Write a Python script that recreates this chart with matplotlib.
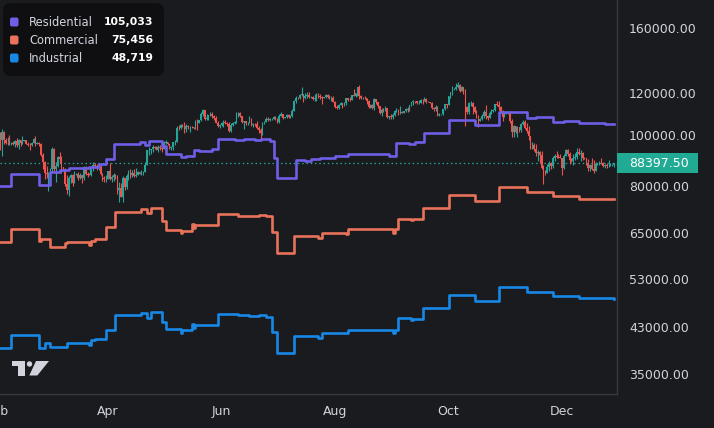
import matplotlib
matplotlib.use("Agg")
import matplotlib.pyplot as plt
import matplotlib.dates as mdates
from matplotlib.patches import FancyBboxPatch, Polygon, Circle, Rectangle
from matplotlib.transforms import IdentityTransform, ScaledTranslation
from matplotlib.ticker import FixedLocator, FuncFormatter, NullLocator
import numpy as np
import pandas as pd

W, H = 714, 428
BG = "#1a1b1f"
TXT = "#d1d4dc"
UP, DOWN = "#26a69a", "#ef5350"

# daily candles, values in thousands (Jan 30 .. Dec 29)
first_open = 103.7
closes = [
    104.7, 102.4,
    100.6, 97.7, 101.4, 97.8, 96.6, 96.6, 96.5, 96.5, 96.1, 97.4, 95.7, 97.9, 96.6, 97.5, 97.6, 96.1, 95.8, 95.5, 96.6, 98.3, 96.1, 96.6, 96.3, 91.5, 88.7, 84.7, 84.4, 84.4,
    86.0, 94.2, 86.1, 87.2, 90.6, 89.9, 86.7, 86.1, 80.7, 78.5, 82.9, 83.7, 81.0, 83.9, 84.3, 82.6, 84.0, 82.7, 86.8, 84.2, 84.0, 83.8, 86.0, 87.5, 87.4, 86.9, 87.2, 84.4, 82.6, 82.3, 82.5,
    85.2, 82.5, 83.1, 83.8, 83.5, 78.4, 79.1, 76.3, 82.6, 79.6, 83.4, 85.3, 83.7, 84.5, 83.6, 84.0, 84.9, 84.4, 85.0, 85.1, 87.5, 93.4, 93.7, 93.9, 94.7, 94.6, 93.8, 95.0, 94.3, 94.2,
    96.5, 96.9, 95.9, 94.3, 94.7, 96.8, 97.0, 103.2, 103.0, 104.6, 104.1, 102.8, 104.2, 103.5, 103.7, 103.5, 103.2, 106.4, 105.6, 106.8, 109.7, 111.7, 107.3, 107.8, 109.0, 109.4, 108.9, 107.8, 105.6, 103.9, 104.6,
    105.6, 105.8, 105.4, 104.7, 101.6, 104.4, 105.6, 105.7, 110.3, 110.3, 108.7, 105.9, 106.1, 105.4, 105.6, 106.8, 104.6, 104.9, 104.7, 103.3, 102.1, 100.9, 105.6, 106.0, 107.3, 106.9, 107.1, 107.3, 108.4, 107.1,
    105.7, 108.8, 109.6, 107.9, 108.2, 109.2, 108.2, 108.9, 111.3, 115.9, 117.5, 117.4, 119.1, 119.8, 117.7, 118.7, 119.4, 117.9, 117.9, 117.3, 117.4, 119.9, 118.7, 118.3, 117.6, 117.9, 119.4, 118.0, 117.8, 117.8, 115.8,
    113.3, 112.5, 114.2, 115.0, 114.1, 115.0, 117.5, 116.6, 116.5, 119.3, 118.7, 120.2, 123.3, 118.4, 117.4, 117.5, 117.4, 116.2, 112.9, 114.3, 112.4, 116.9, 115.4, 113.5, 110.1, 111.8, 111.3, 112.6, 108.4, 108.8, 108.2,
    109.2, 111.2, 111.7, 110.7, 110.7, 110.2, 111.1, 112.0, 111.5, 113.9, 115.5, 116.1, 115.9, 115.3, 115.3, 116.8, 116.5, 117.1, 115.7, 115.7, 115.3, 112.7, 112.0, 113.3, 109.0, 109.6, 109.7, 112.1, 114.4, 114.0,
    118.6, 120.6, 122.3, 122.4, 123.5, 124.7, 121.4, 123.3, 121.7, 113.2, 110.7, 115.2, 115.3, 113.0, 110.8, 108.2, 106.5, 107.2, 108.7, 110.6, 108.5, 107.6, 110.1, 111.0, 111.6, 114.5, 114.1, 112.9, 110.0, 108.3, 109.6,
    110.1, 110.6, 106.5, 101.5, 103.9, 101.3, 103.4, 102.3, 104.7, 106.0, 103.0, 101.6, 99.7, 94.4, 95.5, 94.2, 92.2, 92.9, 91.5, 86.6, 85.1, 84.7, 86.8, 88.3, 87.3, 90.5, 91.3, 90.9, 90.8, 90.4,
    86.3, 91.3, 93.5, 92.1, 89.4, 89.3, 90.4, 90.6, 92.7, 92.0, 92.5, 90.3, 90.2, 88.2, 86.4, 87.8, 86.1, 85.5, 88.1, 88.3, 88.6, 88.5, 87.4, 87.6, 87.2, 87.3, 87.8, 87.8, 88.3975,
]
highs = [
    106.4, 106.0,
    102.8, 101.4, 102.5, 101.7, 98.8, 99.0, 100.1, 96.9, 97.3, 98.0, 98.5, 98.1, 97.2, 99.4, 97.9, 97.7, 97.0, 96.7, 96.9, 98.7, 99.5, 96.9, 96.9, 96.5, 92.5, 89.3, 87.1, 85.0,
    86.5, 95.0, 94.4, 88.9, 91.0, 92.8, 91.2, 86.9, 86.4, 84.0, 83.6, 84.3, 84.3, 85.2, 84.6, 85.0, 84.7, 84.0, 87.4, 87.4, 84.8, 84.5, 86.1, 88.7, 88.5, 88.2, 87.7, 87.5, 84.6, 83.5, 83.9,
    85.5, 88.5, 83.9, 84.7, 84.2, 83.7, 81.2, 80.8, 83.5, 82.7, 84.3, 85.8, 86.0, 85.8, 86.0, 86.4, 85.4, 85.1, 85.6, 85.3, 88.8, 93.8, 94.7, 94.0, 95.8, 95.3, 95.2, 95.6, 95.5, 95.2,
    97.4, 97.9, 96.9, 96.0, 95.2, 96.9, 97.7, 104.0, 104.3, 104.9, 105.0, 105.7, 104.9, 104.6, 104.1, 104.0, 103.7, 107.0, 107.1, 107.0, 110.8, 111.9, 111.8, 109.6, 109.3, 110.4, 110.7, 109.3, 108.9, 106.3, 105.0,
    105.9, 106.6, 106.8, 106.0, 105.9, 105.2, 105.9, 106.4, 110.6, 110.4, 110.4, 108.9, 106.2, 106.2, 106.0, 108.9, 107.7, 105.5, 105.2, 106.5, 104.0, 103.0, 106.0, 106.3, 108.1, 108.0, 107.8, 107.6, 108.5, 108.8,
    107.6, 109.7, 110.6, 109.7, 108.4, 109.7, 109.7, 109.0, 111.9, 116.8, 118.9, 118.2, 119.5, 123.2, 119.9, 120.1, 120.9, 120.8, 118.6, 118.9, 119.7, 120.2, 120.1, 119.5, 118.5, 118.3, 119.8, 119.8, 119.3, 118.8, 118.9,
    116.1, 114.0, 114.8, 115.8, 115.1, 115.7, 117.7, 117.6, 117.9, 119.3, 122.3, 120.3, 123.7, 124.4, 119.2, 118.0, 118.6, 117.6, 116.8, 114.6, 114.8, 117.4, 117.0, 115.8, 113.6, 112.4, 112.6, 113.4, 112.6, 108.9, 109.4,
    109.9, 111.7, 112.6, 112.2, 113.4, 111.0, 111.2, 112.8, 113.2, 114.3, 115.6, 116.8, 116.3, 116.0, 116.7, 117.0, 117.3, 117.9, 117.5, 116.2, 115.8, 115.4, 113.3, 114.0, 113.4, 110.2, 109.8, 112.3, 114.5, 114.8,
    118.9, 121.0, 123.9, 122.9, 125.7, 126.2, 125.1, 124.2, 123.7, 122.5, 113.4, 115.8, 115.9, 115.5, 113.6, 111.8, 109.0, 107.5, 109.4, 111.7, 114.0, 109.1, 111.2, 112.0, 111.9, 114.8, 116.0, 116.0, 113.7, 111.5, 111.2,
    110.6, 111.2, 110.8, 107.3, 104.5, 104.1, 104.1, 103.4, 105.5, 107.0, 106.6, 105.3, 104.0, 99.7, 96.8, 96.6, 96.0, 93.8, 93.1, 93.1, 87.5, 85.6, 88.0, 89.0, 88.8, 91.0, 91.9, 93.0, 91.8, 91.9,
    90.4, 91.8, 94.1, 94.0, 92.7, 90.3, 91.8, 92.3, 94.6, 94.4, 93.6, 92.8, 90.6, 90.5, 89.9, 88.2, 90.3, 89.4, 88.9, 88.6, 89.1, 90.5, 88.8, 88.0, 88.3, 89.4, 88.4, 88.2, 88.6,
]
lows = [
    103.3, 102.2,
    100.3, 93.4, 91.2, 96.2, 96.2, 95.7, 95.7, 95.7, 95.7, 94.7, 94.9, 94.1, 95.2, 96.1, 97.2, 96.0, 95.3, 93.4, 95.2, 96.4, 95.1, 96.1, 95.2, 91.2, 86.1, 82.3, 82.8, 78.2,
    82.3, 85.0, 85.1, 81.4, 86.8, 88.6, 84.6, 85.3, 80.0, 77.0, 76.6, 80.8, 79.9, 80.8, 83.7, 82.2, 82.5, 81.1, 82.0, 83.7, 83.2, 83.7, 83.6, 85.5, 86.3, 85.9, 85.8, 83.7, 81.7, 81.5, 81.3,
    82.4, 82.2, 81.2, 81.6, 82.3, 77.2, 74.5, 76.2, 74.6, 78.5, 78.9, 82.0, 82.7, 83.2, 83.0, 83.1, 83.9, 84.2, 84.0, 83.9, 84.9, 87.6, 91.7, 91.8, 92.9, 93.9, 93.6, 92.9, 93.8, 92.9,
    94.1, 96.2, 95.7, 93.9, 93.5, 93.4, 95.8, 96.9, 102.3, 102.8, 103.4, 100.8, 101.5, 102.5, 101.5, 103.1, 102.6, 102.6, 102.1, 105.2, 106.1, 108.9, 106.9, 106.8, 106.6, 108.7, 107.5, 106.8, 105.3, 103.6, 103.1,
    103.9, 103.7, 104.9, 104.2, 101.1, 101.3, 104.2, 105.1, 105.3, 108.4, 108.4, 105.6, 102.7, 104.3, 104.6, 105.4, 103.8, 103.4, 103.9, 102.5, 101.0, 98.2, 100.0, 104.8, 105.9, 106.5, 106.2, 106.8, 107.2, 106.7,
    105.3, 105.6, 108.6, 107.3, 107.8, 107.9, 107.5, 107.5, 108.4, 111.0, 115.3, 116.9, 117.2, 118.9, 115.8, 116.9, 117.7, 117.4, 117.4, 116.5, 116.2, 116.2, 117.4, 117.2, 114.7, 117.4, 117.8, 117.6, 116.9, 115.9, 115.5,
    112.7, 112.0, 112.0, 114.0, 112.8, 113.7, 114.3, 115.9, 116.2, 116.5, 118.5, 118.2, 118.9, 117.2, 116.9, 117.2, 117.3, 114.6, 112.7, 112.4, 111.9, 111.7, 114.6, 112.6, 109.5, 108.8, 110.4, 110.9, 107.5, 107.4, 107.4,
    107.3, 108.6, 110.6, 109.3, 109.6, 109.9, 110.0, 110.6, 110.8, 111.0, 113.5, 114.3, 115.3, 114.8, 114.5, 114.9, 114.8, 116.0, 115.0, 115.4, 115.0, 112.0, 111.1, 111.3, 108.6, 108.6, 109.0, 109.3, 111.6, 112.7,
    113.9, 117.8, 119.2, 121.6, 122.0, 123.0, 120.6, 121.1, 119.6, 104.0, 109.7, 109.7, 113.8, 109.7, 110.1, 107.6, 103.5, 106.3, 106.6, 107.5, 107.4, 106.8, 107.5, 109.7, 110.8, 111.2, 113.8, 111.8, 109.9, 106.3, 108.2,
    109.4, 109.6, 105.3, 98.9, 98.9, 100.8, 99.3, 101.5, 101.5, 104.3, 102.7, 100.8, 98.0, 94.0, 94.2, 93.0, 91.2, 89.2, 88.6, 86.1, 80.6, 83.9, 84.7, 85.3, 86.1, 86.3, 89.3, 90.2, 90.2, 90.3,
    83.8, 86.2, 91.0, 91.3, 88.0, 88.9, 87.7, 89.6, 89.9, 91.5, 89.3, 89.5, 89.8, 87.6, 85.2, 85.4, 85.9, 84.5, 85.3, 87.8, 87.6, 87.9, 86.9, 86.5, 86.6, 86.7, 87.3, 87.1, 86.9,
]

# step lines: change dates and levels (thousands)
res_dates = ["2025-01-30", "2025-02-08", "2025-02-23", "2025-03-01", "2025-03-06", "2025-03-11", "2025-03-22",
             "2025-03-27", "2025-03-31", "2025-04-04", "2025-04-18", "2025-04-21", "2025-04-23", "2025-04-30",
             "2025-05-02", "2025-05-10", "2025-05-13", "2025-05-17", "2025-05-20", "2025-05-27", "2025-05-30",
             "2025-06-08", "2025-06-13", "2025-06-19", "2025-06-22", "2025-06-27", "2025-06-29", "2025-07-01",
             "2025-07-11", "2025-07-16", "2025-07-19", "2025-07-24", "2025-08-01", "2025-08-08", "2025-08-30",
             "2025-09-03", "2025-09-10", "2025-09-13", "2025-09-18", "2025-10-01", "2025-10-15", "2025-10-28",
             "2025-11-12", "2025-11-17", "2025-11-26", "2025-12-02", "2025-12-10", "2025-12-18", "2025-12-24",
             "2025-12-29"]
res_vals = [79.9, 84.1, 80.3, 85.1, 85.7, 86.4, 86.9, 87.9, 89.9, 96.1, 97.0, 95.7, 97.4, 95.3, 92.0, 90.8,
            91.3, 93.6, 93.2, 93.9, 98.3, 97.8, 98.3, 97.6, 98.3, 97.4, 90.5, 82.9, 89.6, 89.2, 90.0, 90.5,
            91.3, 91.9, 91.0, 96.7, 96.1, 96.8, 101.0, 106.8, 104.5, 110.8, 107.9, 108.4, 106.0, 106.3, 105.3,
            105.4, 105.1, 105.033]

com_dates = ["2025-01-30", "2025-02-08", "2025-02-23", "2025-02-24", "2025-03-01", "2025-03-09", "2025-03-10",
             "2025-03-22", "2025-03-23", "2025-03-25", "2025-03-31", "2025-04-05", "2025-04-19", "2025-04-22",
             "2025-04-24", "2025-04-30", "2025-05-02", "2025-05-10", "2025-05-11", "2025-05-16", "2025-05-17",
             "2025-05-18", "2025-05-30", "2025-06-10", "2025-06-16", "2025-06-21", "2025-06-25", "2025-06-28",
             "2025-07-01", "2025-07-10", "2025-07-23", "2025-07-25", "2025-08-07", "2025-08-08", "2025-09-01",
             "2025-09-02", "2025-09-04", "2025-09-11", "2025-09-12", "2025-09-17", "2025-10-01", "2025-10-15",
             "2025-10-28", "2025-11-12", "2025-11-26", "2025-12-10", "2025-12-29"]
com_vals = [62.56, 66.08, 62.75, 63.31, 61.2, 62.1, 62.35, 61.67, 62.85, 63.31, 66.84, 71.38, 72.14, 70.97,
            72.46, 68.53, 65.87, 64.93, 65.58, 67.54, 66.37, 67.33, 70.51, 70.2, 70.05, 70.5, 70.0, 65.2,
            59.45, 64.24, 63.52, 65.09, 64.64, 66.02, 65.09, 66.02, 69.14, 68.83, 69.22, 72.46, 76.82, 74.91,
            79.66, 77.73, 76.48, 75.58, 75.456]

ind_dates = ["2025-01-30", "2025-02-08", "2025-02-23", "2025-02-26", "2025-03-01", "2025-03-10", "2025-03-22",
             "2025-03-23", "2025-03-25", "2025-03-31", "2025-04-05", "2025-04-19", "2025-04-22", "2025-04-24",
             "2025-04-30", "2025-05-02", "2025-05-10", "2025-05-11", "2025-05-16", "2025-05-17", "2025-05-18",
             "2025-05-30", "2025-06-10", "2025-06-16", "2025-06-21", "2025-06-25", "2025-06-28", "2025-07-01",
             "2025-07-10", "2025-07-23", "2025-07-25", "2025-08-07", "2025-08-08", "2025-09-01", "2025-09-02",
             "2025-09-04", "2025-09-11", "2025-09-12", "2025-09-17", "2025-10-01", "2025-10-15", "2025-10-28",
             "2025-11-12", "2025-11-26", "2025-12-10", "2025-12-29"]
ind_vals = [39.17, 41.52, 39.27, 40.03, 39.44, 40.14, 39.74, 40.62, 40.8, 42.45, 45.34, 45.74, 44.82, 45.88,
            44.03, 42.57, 41.83, 42.45, 43.52, 42.77, 43.39, 45.54, 45.3, 45.1, 45.4, 45.0, 42.02, 38.42,
            41.39, 40.93, 41.94, 41.83, 42.45, 41.94, 42.45, 44.69, 44.35, 44.55, 46.82, 49.5, 48.28, 51.35,
            50.1, 49.3, 48.8, 48.719]

legend_names = ["Residential", "Commercial", "Industrial"]
legend_values = ["105,033", "75,456", "48,719"]
line_colors = ["#6e5fe6", "#e8735a", "#1888e6"]

y_ticks = [35000, 43000, 53000, 65000, 80000, 100000, 120000, 160000]
month_names = ["Feb", "Apr", "Jun", "Aug", "Oct", "Dec"]
month_dates = ["2025-02-01", "2025-04-01", "2025-06-01", "2025-08-01", "2025-10-01", "2025-12-01"]

days = pd.date_range("2025-01-30", "2025-12-29", freq="D")
c = np.array(closes) * 1000
h = np.array(highs) * 1000
l = np.array(lows) * 1000
o = np.concatenate([[first_open * 1000], c[:-1]])
h = np.maximum(h, np.maximum(o, c))
l = np.minimum(l, np.minimum(o, c))
x = mdates.date2num(days)

fig = plt.figure(figsize=(W / 100, H / 100), dpi=100, facecolor=BG)
ax = fig.add_axes([0, 34 / H, 617 / W, 394 / H])
ax.set_facecolor(BG)

up = c >= o
cols = np.where(up, UP, DOWN)
ax.vlines(x, l, h, colors=cols, lw=0.8, zorder=2)
ax.bar(x, np.abs(c - o), bottom=np.minimum(o, c), width=0.85, color=cols, lw=0, zorder=2)

for dts, vals, col in [(res_dates, res_vals, line_colors[0]),
                       (com_dates, com_vals, line_colors[1]),
                       (ind_dates, ind_vals, line_colors[2])]:
    ax.plot(mdates.date2num(pd.to_datetime(dts)), np.array(vals) * 1000, drawstyle="steps-post",
            color=col, lw=1.9, zorder=3, solid_joinstyle="round")

last = c[-1]
ax.axhline(last, color=UP, lw=0.9, ls=(0, (1.2, 2.2)), zorder=1)

ax.set_yscale("log")
ax.set_ylim(32050, 180900)
feb1 = mdates.date2num(pd.Timestamp("2025-02-01"))
ax.set_xlim(feb1 + 0.97, feb1 + 332.5)

ax.yaxis.tick_right()
ax.yaxis.set_major_locator(FixedLocator(y_ticks))
ax.yaxis.set_minor_locator(NullLocator())
ax.yaxis.set_major_formatter(FuncFormatter(lambda v, p: f"{v:.2f}"))
ax.tick_params(axis="y", length=0, pad=8.6, labelsize=9, labelcolor=TXT)
ax.set_xticks([])

off = ScaledTranslation(0, -8 / 72, fig.dpi_scale_trans)
for name, d in zip(month_names, month_dates):
    ax.text(mdates.date2num(pd.Timestamp(d)), 0, name, transform=ax.get_xaxis_transform() + off,
            ha="center", va="top", fontsize=9, color=TXT, clip_on=False)

for side in ["top", "left"]:
    ax.spines[side].set_visible(False)
for side in ["right", "bottom"]:
    ax.spines[side].set_color("#36383d")
    ax.spines[side].set_linewidth(1)

# price label on the scale
ypix = ax.transData.transform((x[-1], last))[1]
fig.patches.append(Rectangle((617, ypix - 10), 81, 20, transform=IdentityTransform(),
                             facecolor="#22ab94", edgecolor="none", zorder=5))
fig.text(629, ypix, f"{last:.2f}", transform=IdentityTransform(), ha="left", va="center",
         fontsize=9, color="white", zorder=6)

# legend box
fig.patches.append(FancyBboxPatch((3, H - 76), 161, 73, boxstyle="round,pad=0,rounding_size=8",
                                  transform=IdentityTransform(), facecolor="#0f0f11", edgecolor="none"))
for i, (name, val, col) in enumerate(zip(legend_names, legend_values, line_colors)):
    yc = H - (22 + 18 * i)
    fig.patches.append(FancyBboxPatch((10, yc - 4.5), 8.5, 9, boxstyle="round,pad=0,rounding_size=2",
                                      transform=IdentityTransform(), facecolor=col, edgecolor="none"))
    fig.text(29, yc, name, transform=IdentityTransform(), ha="left", va="center", fontsize=8.3, color=TXT)
    fig.text(153, yc, val, transform=IdentityTransform(), ha="right", va="center", fontsize=7.8,
             color="white", fontweight="bold")

# TradingView mark
LOGO = "#d1d4dc"
def P(pts):
    return [(px, H - py) for px, py in pts]
fig.patches.append(Polygon(P([(11.7, 361), (25, 361), (25, 375.5), (18.3, 375.5), (18.3, 366), (11.7, 366)]),
                           closed=True, transform=IdentityTransform(), facecolor=LOGO, edgecolor="none"))
fig.patches.append(Circle((29.5, H - 364), 2.7, transform=IdentityTransform(), facecolor=LOGO, edgecolor="none"))
fig.patches.append(Polygon(P([(36, 361), (49, 361), (37.3, 375.5), (29.3, 375.5)]), closed=True,
                           transform=IdentityTransform(), facecolor=LOGO, edgecolor="none"))

fig.savefig("out.png", facecolor=BG)
